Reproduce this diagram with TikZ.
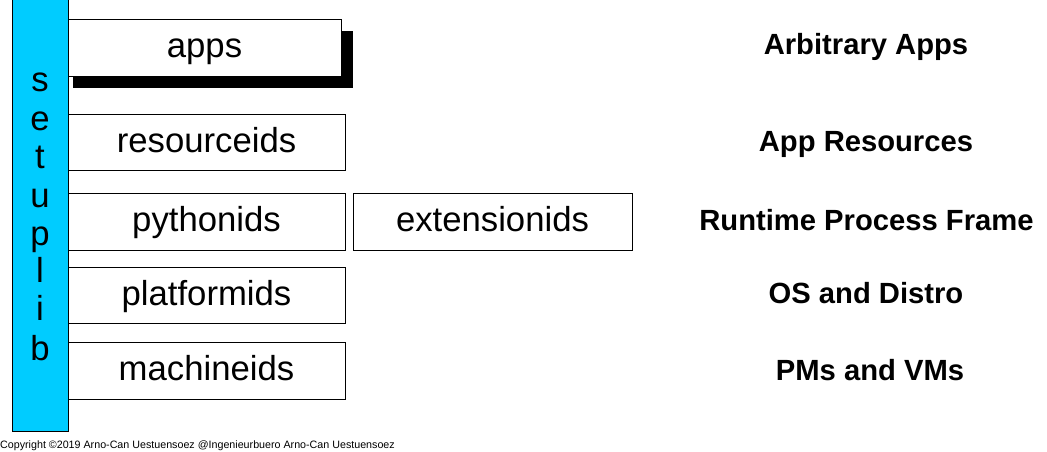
\documentclass[tikz,border=0pt]{standalone}
\usepackage{fontspec}
\setmainfont{Liberation Sans}
\usepackage{xcolor}
\definecolor{mycyan}{HTML}{00CCFF}

\begin{document}
\begin{tikzpicture}[x=1pt,y=-1pt,
    idbox/.style={draw=black,line width=0.9pt,fill=white,minimum height=56pt,
      inner sep=0pt,text height=26pt,text depth=6pt,
      font=\fontsize{34.7}{38}\selectfont},
    layer/.style={anchor=base,inner sep=0pt,font=\fontsize{29.2}{33}\selectfont\bfseries},
    barletter/.style={anchor=base,inner sep=0pt,font=\fontsize{34.7}{38}\selectfont}]

      \useasboundingbox (0,0) rectangle (1047,452);

      % setuplib bar
      \node (bar) [draw=black,line width=0.9pt,fill=mycyan,minimum width=56pt,
      minimum height=433pt,inner sep=0pt] at (40,214.5) {};
      \node (ls) [barletter] at (40,92) {s};
      \node (le) [barletter] at (40,130) {e};
      \node (lt) [barletter] at (40,168) {t};
      \node (lu) [barletter] at (40,207) {u};
      \node (lp) [barletter] at (40,245) {p};
      \node (ll) [barletter] at (40,282) {l};
      \node (li) [barletter] at (40,320) {i};
      \node (lb) [barletter] at (40,360) {b};

      % BOXES
      \node (appsshadow) [fill=black,minimum width=280pt,minimum height=57pt,
      inner sep=0pt] at (213,59.5) {};
      \node (apps) [idbox,minimum width=273pt,minimum height=57pt] at (204.5,47.5) {apps};
      \node (resourceids) [idbox,minimum width=277pt] at (206.5,142) {resourceids};
      \node (pythonids) [idbox,minimum width=277pt,minimum height=57pt] at (206.5,221.5) {pythonids};
      \node (extensionids) [idbox,minimum width=279pt,minimum height=57pt] at (492.5,221.5) {extensionids};
      \node (platformids) [idbox,minimum width=277pt] at (206.5,295) {platformids};
      \node (machineids) [idbox,minimum width=277pt,minimum height=57pt] at (206.5,370.5) {machineids};

      % layers
      \node (arbitrary) [layer] at (866,55) {Arbitrary Apps};
      \node (appres) [layer] at (866,151) {App Resources};
      \node (runtime) [layer] at (866.5,230) {Runtime Process Frame};
      \node (osdistro) [layer] at (866,303) {OS and Distro};
      \node (pmvm) [layer] at (870,380) {PMs and VMs};

      % copyright
      \node (copyright) [anchor=base west,inner sep=0pt,
      font=\fontsize{10.7}{13}\selectfont] at (0,448)
      {Copyright \textcopyright 2019 Arno-Can Uestuensoez @Ingenieurbuero Arno-Can Uestuensoez};

\end{tikzpicture}
\end{document}
